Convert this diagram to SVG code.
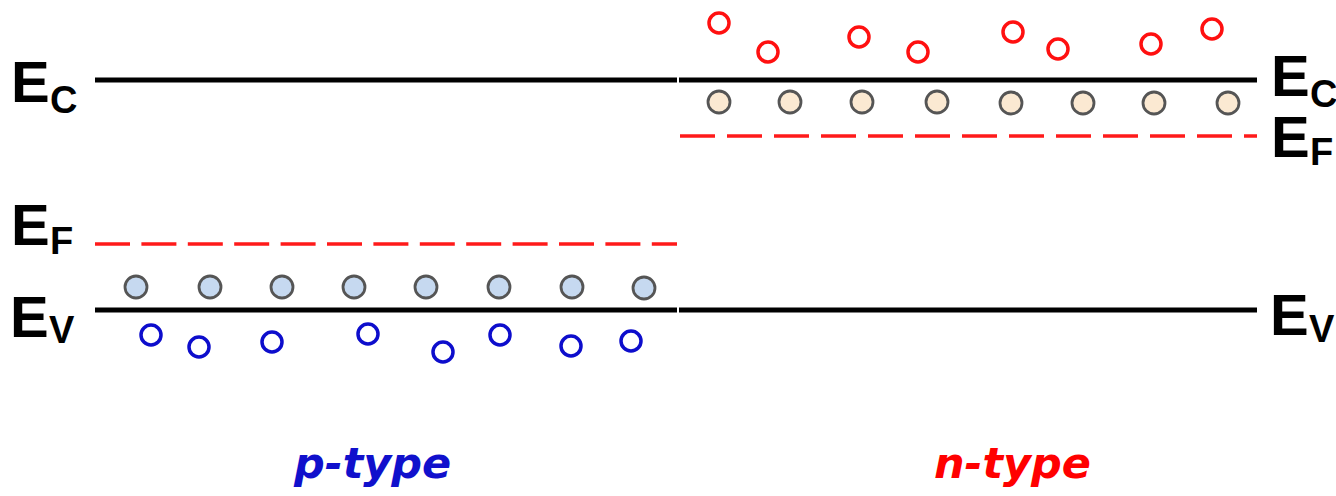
<svg xmlns="http://www.w3.org/2000/svg" width="1336" height="496" viewBox="0 0 1336 496">
  <style>
    .band { stroke: #000; stroke-width: 5; fill: none; }
    .fermi { stroke: #ff1a1a; stroke-width: 3.5; fill: none; }
    .lbl { font-family: "Liberation Sans", Arial, sans-serif; font-weight: bold; fill: #000; }
    .big { font-size: 58px; }
    .sub { font-size: 38px; }
    .hole-state { fill: #c6d9f0; stroke: #555; stroke-width: 2.8; }
    .donor-state { fill: #fbe9d2; stroke: #555; stroke-width: 2.8; }
    .hole { fill: none; stroke: #0d0dcc; stroke-width: 3.5; }
    .electron { fill: none; stroke: #ff1010; stroke-width: 3.5; }
    .kind { font-family: "DejaVu Sans", Verdana, sans-serif; font-weight: bold; font-style: italic; font-size: 43px; }
  </style>
  <rect width="1336" height="496" fill="#fff"/>

  <!-- band edges and Fermi levels -->
  <g id="levels">
    <line class="band" x1="95" y1="80" x2="677" y2="80"/>
    <line class="band" x1="679" y1="80" x2="1257" y2="80"/>
    <line class="band" x1="95" y1="310" x2="677" y2="310"/>
    <line class="band" x1="679" y1="310" x2="1257" y2="310"/>
    <line class="fermi" x1="95" y1="244" x2="677" y2="244" stroke-dasharray="35 11.4"/>
    <line class="fermi" x1="680" y1="136" x2="1257" y2="136" stroke-dasharray="35 12"/>
  </g>

  <!-- p-type side: acceptor states and holes -->
  <g id="p-acceptors">
    <circle class="hole-state" cx="136" cy="287" r="11"/>
    <circle class="hole-state" cx="210" cy="287" r="11"/>
    <circle class="hole-state" cx="282" cy="287" r="11"/>
    <circle class="hole-state" cx="354" cy="287" r="11"/>
    <circle class="hole-state" cx="426" cy="287" r="11"/>
    <circle class="hole-state" cx="499" cy="287" r="11"/>
    <circle class="hole-state" cx="572" cy="287" r="11"/>
    <circle class="hole-state" cx="644" cy="288" r="11"/>
  </g>
  <g id="p-holes">
    <circle class="hole" cx="151" cy="335" r="10"/>
    <circle class="hole" cx="199" cy="347" r="10"/>
    <circle class="hole" cx="272" cy="342" r="10"/>
    <circle class="hole" cx="368" cy="334" r="10"/>
    <circle class="hole" cx="443" cy="352" r="10"/>
    <circle class="hole" cx="500" cy="335" r="10"/>
    <circle class="hole" cx="571" cy="346" r="10"/>
    <circle class="hole" cx="631" cy="341" r="10"/>
  </g>

  <!-- n-type side: donor states and electrons -->
  <g id="n-donors">
    <circle class="donor-state" cx="719" cy="102" r="11"/>
    <circle class="donor-state" cx="790" cy="102" r="11"/>
    <circle class="donor-state" cx="862" cy="102" r="11"/>
    <circle class="donor-state" cx="937" cy="102" r="11"/>
    <circle class="donor-state" cx="1011" cy="103" r="11"/>
    <circle class="donor-state" cx="1083" cy="103" r="11"/>
    <circle class="donor-state" cx="1154" cy="103" r="11"/>
    <circle class="donor-state" cx="1228" cy="103" r="11"/>
  </g>
  <g id="n-electrons">
    <circle class="electron" cx="719" cy="23" r="10"/>
    <circle class="electron" cx="768" cy="52" r="10"/>
    <circle class="electron" cx="859" cy="37" r="10"/>
    <circle class="electron" cx="918" cy="52" r="10"/>
    <circle class="electron" cx="1013" cy="32" r="10"/>
    <circle class="electron" cx="1058" cy="49" r="10"/>
    <circle class="electron" cx="1151" cy="44" r="10"/>
    <circle class="electron" cx="1212" cy="29" r="10"/>
  </g>

  <!-- level labels -->
  <g id="label-ec-left">
    <text class="lbl big" x="11" y="102">E</text>
    <text class="lbl sub" x="50" y="113">C</text>
  </g>
  <g id="label-ef-left">
    <text class="lbl big" x="11" y="245">E</text>
    <text class="lbl sub" x="50" y="254">F</text>
  </g>
  <g id="label-ev-left">
    <text class="lbl big" x="10" y="337">E</text>
    <text class="lbl sub" x="49" y="343">V</text>
  </g>
  <g id="label-ec-right">
    <text class="lbl big" x="1271" y="96">E</text>
    <text class="lbl sub" x="1310" y="107">C</text>
  </g>
  <g id="label-ef-right">
    <text class="lbl big" x="1271" y="157">E</text>
    <text class="lbl sub" x="1310" y="165">F</text>
  </g>
  <g id="label-ev-right">
    <text class="lbl big" x="1270" y="335">E</text>
    <text class="lbl sub" x="1309" y="342">V</text>
  </g>

  <!-- material captions -->
  <g id="caption-p">
    <text class="kind" x="294" y="478" fill="#1010cc">p-type</text>
  </g>
  <g id="caption-n">
    <text class="kind" x="934" y="478" fill="#ff0000">n-type</text>
  </g>
</svg>
